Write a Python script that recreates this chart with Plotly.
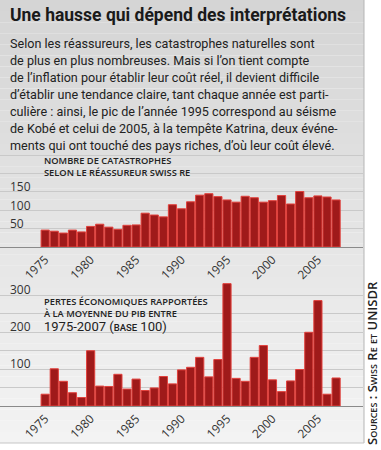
import plotly.graph_objects as go

# ---------------- data ----------------
years = list(range(1975, 2008))
catastrophes = [46, 43, 38, 46, 41, 56, 62, 54, 48, 59, 60, 92, 87, 82, 115, 104, 123,
                141, 145, 137, 128, 122, 138, 134, 122, 126, 140, 117, 151, 134, 139, 136, 128]
pertes = [32, 101, 67, 36, 23, 150, 54, 53, 86, 46, 73, 42, 49, 80, 60, 98, 105,
          132, 79, 126, 332, 75, 67, 132, 164, 71, 39, 68, 99, 200, 286, 32, 76]
tick_years = [1975, 1980, 1985, 1990, 1995, 2000, 2005]
y1_grid = [50, 100, 150, 200, 250]
y1_labels = [50, 100, 150]
y2_grid = [50, 100, 150, 200, 250, 300, 350]
y2_labels = [100, 200, 300]

title = "Une hausse qui dépend des interprétations"
body_lines = [
    "Selon les réassureurs, les catastrophes naturelles sont",
    "de plus en plus nombreuses. Mais si l’on tient compte",
    "de l’inflation pour établir leur coût réel, il devient difficile",
    "d’établir une tendance claire, tant chaque année est parti-",
    "culière : ainsi, le pic de l’année 1995 correspond au séisme",
    "de Kobé et celui de 2005, à la tempête Katrina, deux événe-",
    "ments qui ont touché des pays riches, d’où leur coût élevé.",
]
sub1 = ["NOMBRE DE CATASTROPHES", "SELON LE RÉASSUREUR SWISS RE"]
sub2 = ["PERTES ÉCONOMIQUES RAPPORTÉES", "À LA MOYENNE DU PIB ENTRE"]
sub2_last = ["1975-2007 (", "BASE", " 100)"]
source = "Sources : Swiss Re et UNISDR"

# ---------------- layout helpers ----------------
W, H = 381, 450
def px(x):
    return x / W
def py(y):
    return 1 - y / H

BODY_FONT = "Roboto, sans-serif"
SMALL_FONT = "Open Sans, Roboto, sans-serif"
TXT = "#222222"
BAR = "#9f1a1a"
BAR_EDGE = "#e2403c"

fig = go.Figure()
fig.add_trace(go.Bar(x=years, y=catastrophes, xaxis="x", yaxis="y",
                     marker=dict(color=BAR, line=dict(color=BAR_EDGE, width=1)),
                     hoverinfo="x+y"))
fig.add_trace(go.Bar(x=years, y=pertes, xaxis="x2", yaxis="y2",
                     marker=dict(color=BAR, line=dict(color=BAR_EDGE, width=1)),
                     hoverinfo="x+y"))

x_range = [1970.03, 2009.96]
xcommon = dict(domain=[0, px(363)], range=x_range, tickmode="array", tickvals=tick_years,
               tickangle=-45, tickfont=dict(size=12, color="#333333", family="Open Sans, sans-serif"),
               showgrid=False, zeroline=False, showline=True, linecolor="#8a8a8a",
               linewidth=1, ticks="", fixedrange=True)
ycommon = dict(showticklabels=False, gridcolor="#c9c9c9", gridwidth=1, zeroline=False,
               tickmode="array", showline=False, ticks="", fixedrange=True)

fig.update_layout(
    width=W, height=H, margin=dict(l=0, r=0, t=0, b=0),
    paper_bgcolor="white", plot_bgcolor="rgba(0,0,0,0)",
    showlegend=False, bargap=0.1,
    xaxis=dict(anchor="y", **xcommon),
    yaxis=dict(anchor="x", domain=[py(247), py(154)], range=[0, 253], tickvals=y1_grid, **ycommon),
    xaxis2=dict(anchor="y2", **xcommon),
    yaxis2=dict(anchor="x2", domain=[py(406), py(277)], range=[0, 350], tickvals=y2_grid, **ycommon),
)

# background gradient panel (decorative)
shapes = []
n = 40
top_c, bot_c = (213, 213, 213), (243, 243, 243)
for i in range(n):
    y0 = 443 * i / n
    y1 = 443 * (i + 1) / n
    t = i / (n - 1)
    c = tuple(int(round(top_c[k] + (bot_c[k] - top_c[k]) * t)) for k in range(3))
    shapes.append(dict(type="rect", xref="paper", yref="paper", x0=0, x1=px(364),
                       y0=py(y1), y1=py(y0), fillcolor="rgb(%d,%d,%d)" % c,
                       line=dict(width=0), layer="below"))
shapes.append(dict(type="line", xref="paper", yref="paper", x0=px(364), x1=px(364),
                   y0=py(443), y1=1, line=dict(color="#b5b5b5", width=1), layer="below"))
shapes.append(dict(type="line", xref="paper", yref="paper", x0=0, x1=px(364),
                   y0=py(443), y1=py(443), line=dict(color="#c5c5c5", width=1), layer="below"))
fig.update_layout(shapes=shapes)

ann = []
ann.append(dict(text="<b>" + title + "</b>", x=px(8), y=py(15), xref="paper", yref="paper",
                xanchor="left", yanchor="middle", showarrow=False,
                font=dict(family=BODY_FONT, size=17.5, color="#1a1a1a")))
for i, line in enumerate(body_lines):
    ann.append(dict(text=line, x=px(8), y=py(43.5 + 17 * i), xref="paper", yref="paper",
                    xanchor="left", yanchor="middle", showarrow=False,
                    font=dict(family=BODY_FONT, size=12.6, color=TXT)))
ann.append(dict(text="<br>".join(sub1), x=px(42), y=py(166.5), xref="paper", yref="paper",
                xanchor="left", yanchor="middle", align="left", showarrow=False,
                font=dict(family=SMALL_FONT, size=9.3, color=TXT, weight=600)))
ann.append(dict(text="<br>".join(sub2), x=px(42), y=py(307.3), xref="paper", yref="paper",
                xanchor="left", yanchor="middle", align="left", showarrow=False,
                font=dict(family=SMALL_FONT, size=9.3, color=TXT, weight=600)))
sub2_text = "%s<span style='font-size:9.5px;font-weight:500'>%s</span>%s" % tuple(sub2_last)
ann.append(dict(text=sub2_text, x=px(42), y=py(326.5), xref="paper", yref="paper",
                xanchor="left", yanchor="middle", align="left", showarrow=False,
                font=dict(family="Roboto, sans-serif", size=13, color=TXT)))
for v in y1_labels:
    ann.append(dict(text=str(v), x=px(8), y=v, xref="paper", yref="y",
                    xanchor="left", yanchor="middle", yshift=5, showarrow=False,
                    font=dict(family="Open Sans, sans-serif", size=12, color="#333333")))
for v in y2_labels:
    ann.append(dict(text=str(v), x=px(8), y=v, xref="paper", yref="y2",
                    xanchor="left", yanchor="middle", yshift=6, showarrow=False,
                    font=dict(family="Open Sans, sans-serif", size=12, color="#333333")))
ann.append(dict(text=source, x=px(372), y=py(363), xref="paper", yref="paper",
                xanchor="center", yanchor="middle", textangle=-90, showarrow=False,
                font=dict(family=SMALL_FONT, size=13, color=TXT, weight=600, variant="small-caps")))
fig.update_layout(annotations=ann)

fig.write_html("out.html", config={"displayModeBar": False, "staticPlot": True},
               post_script=("document.body.style.margin='0px';document.body.style.padding='0px';"
                            "document.body.style.overflow='hidden';"))
